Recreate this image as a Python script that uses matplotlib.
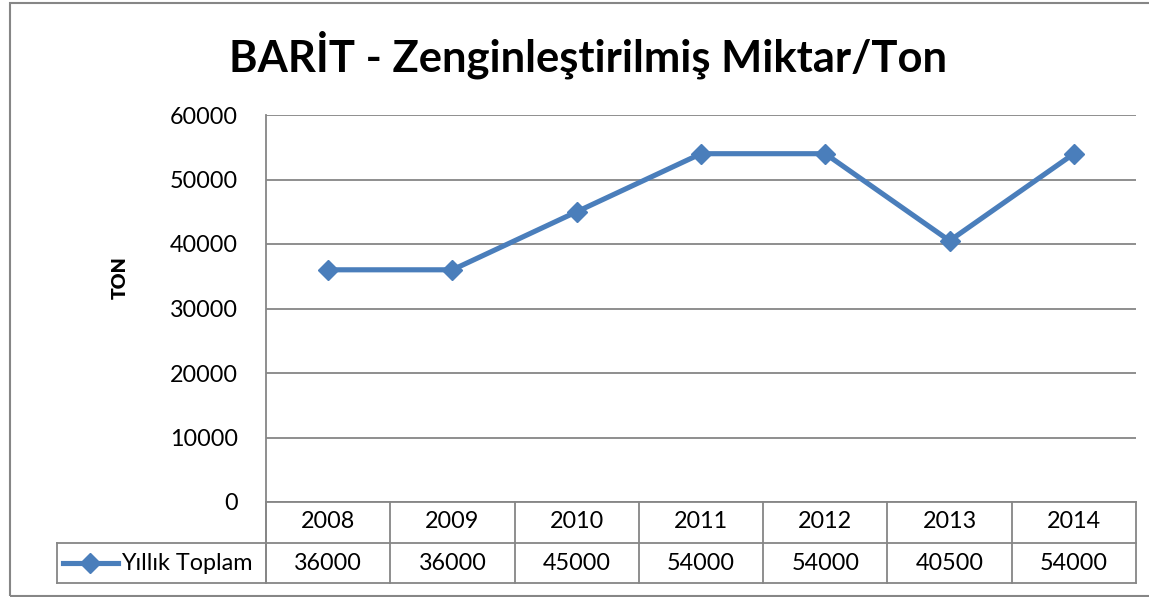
import matplotlib.pyplot as plt
from matplotlib.lines import Line2D
from matplotlib.patches import Rectangle
from matplotlib.transforms import blended_transform_factory

# data
years = ['2008', '2009', '2010', '2011', '2012', '2013', '2014']
totals = [36000, 36000, 45000, 54000, 54000, 40500, 54000]
y_ticks = [0, 10000, 20000, 30000, 40000, 50000, 60000]
series_name = 'Yıllık Toplam'
chart_title = 'BARİT - Zenginleştirilmiş Miktar/Ton'
y_label = 'TON'

plt.rcParams['font.family'] = ['Lato', 'DejaVu Sans']

W, H = 1149, 597
blue = '#4a7ebb'
grey = '#868686'
fs = 16.8

def fx(px):
    return px / W

def fy(py):
    return 1 - py / H

fig = plt.figure(figsize=(W / 100, H / 100), dpi=100)

# outer chart border (right side runs off the picture)
fig.add_artist(Rectangle((fx(10), fy(596)), fx(1170 - 10), (596 - 3) / H,
                         transform=fig.transFigure, fill=False,
                         edgecolor=grey, lw=1.5))

ax = fig.add_axes([fx(266), fy(502), (1136 - 266) / W, (502 - 115) / H])
ax.set_xlim(-0.5, len(years) - 0.5)
ax.set_ylim(0, 60000)
ax.set_yticks(y_ticks)
ax.set_yticklabels([str(t) for t in y_ticks], fontsize=fs)
ax.set_xticks([])
ax.tick_params(axis='y', length=0, pad=20)
ax.yaxis.grid(True, color=grey, lw=1.3)
ax.set_axisbelow(True)
for s in ['top', 'right']:
    ax.spines[s].set_visible(False)
for s in ['left', 'bottom']:
    ax.spines[s].set_color(grey)
    ax.spines[s].set_linewidth(1.3)

ax.plot(range(len(years)), totals, color=blue, lw=3.7, marker='D',
        ms=10.5, clip_on=False, zorder=3)

# data table under the plot
trans = blended_transform_factory(ax.transData, fig.transFigure)
for i in range(len(years) + 1):
    ax.add_line(Line2D([i - 0.5, i - 0.5], [fy(502), fy(583)], transform=trans,
                       color=grey, lw=1.3, clip_on=False))
for py in [543, 583]:
    fig.add_artist(Line2D([fx(57), fx(1136)], [fy(py), fy(py)],
                          color=grey, lw=1.3))
fig.add_artist(Line2D([fx(57), fx(57)], [fy(543), fy(583)], color=grey, lw=1.3))
# left spine continues down through the table
fig.add_artist(Line2D([fx(266), fx(266)], [fy(502), fy(583)], color=grey, lw=1.3))

for i, (yr, v) in enumerate(zip(years, totals)):
    ax.text(i, fy(522), yr, transform=trans, ha='center', va='center', fontsize=fs)
    ax.text(i, fy(563), str(v), transform=trans, ha='center', va='center', fontsize=fs)

# legend key inside table
fig.add_artist(Line2D([fx(63), fx(118)], [fy(563), fy(563)], color=blue, lw=3.7))
fig.add_artist(Line2D([fx(90)], [fy(563)], color=blue, marker='D', ms=10.5))
fig.text(fx(121), fy(563), series_name, ha='left', va='center', fontsize=fs)

fig.text(fx(588), fy(55), chart_title, ha='center', va='center',
         fontsize=31.3, fontweight='bold')
fig.text(fx(120), fy(278), y_label, ha='center', va='center', rotation=90,
         fontsize=14, fontweight='heavy')

fig.savefig('out.png', dpi=100)
